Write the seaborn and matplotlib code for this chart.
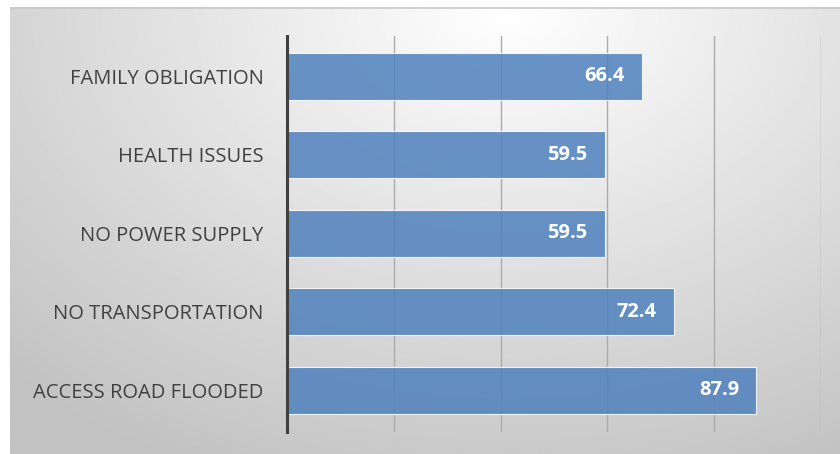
import numpy as np
import pandas as pd
import matplotlib
matplotlib.use('Agg')
import matplotlib.pyplot as plt
import seaborn as sns

# Data (top to bottom as shown)
reasons = ['FAMILY OBLIGATION', 'HEALTH ISSUES', 'NO POWER SUPPLY',
           'NO TRANSPORTATION', 'ACCESS ROAD FLOODED']
percent = [66.4, 59.5, 59.5, 72.4, 87.9]
x_ticks = [0, 20, 40, 60, 80, 100]

BAR_COLOR = '#4f81bd'
TEXT_COLOR = '#404040'

sns.set_theme(style='white')
plt.rcParams['font.family'] = ['Open Sans', 'DejaVu Sans']

df = pd.DataFrame({'reason': reasons, 'percent': percent})

fig = plt.figure(figsize=(8.4, 4.54), dpi=100)
fig.patch.set_facecolor('white')

# gradient panel behind the chart
bg = fig.add_axes([10 / 840, 0, 830 / 840, 447 / 454])
yy, xx = np.mgrid[0:1:300j, 0:1:600j]
dist = np.sqrt(((xx - 0.6) / 0.75) ** 2 + (yy / 1.0) ** 2)
shade = 1.0 - 0.24 * np.clip(dist, 0, 1.15) / 1.15
bg.imshow(shade, cmap='gray', vmin=0, vmax=1, aspect='auto',
          extent=[0, 1, 1, 0], interpolation='bilinear')
bg.plot([0, 1], [0.002, 0.002], color='#c8c8c8', lw=1.2)
bg.set_xlim(0, 1)
bg.set_ylim(1, 0)
bg.axis('off')

ax = fig.add_axes([287 / 840, 1 - 432 / 454, (821 - 287) / 840, (432 - 36) / 454])
ax.patch.set_alpha(0)

sns.barplot(data=df, x='percent', y='reason', orient='h', ax=ax,
            color=BAR_COLOR, width=0.6, alpha=0.85, saturation=1,
            edgecolor='white', linewidth=0.8)

ax.set_xlim(0, 100)
ax.set_ylim(4.53, -0.51)
ax.set_xticks(x_ticks)
ax.set_xticklabels([])
ax.xaxis.grid(True, color='#ababab', lw=1.0)
ax.set_axisbelow(True)
ax.set_xlabel('')
ax.set_ylabel('')
ax.tick_params(axis='y', length=0, pad=17, labelsize=14.5, labelcolor=TEXT_COLOR)
ax.tick_params(axis='x', length=0)

for side in ['top', 'right', 'bottom']:
    ax.spines[side].set_visible(False)
ax.spines['left'].set_color('#404040')
ax.spines['left'].set_linewidth(2.2)

for i, v in enumerate(percent):
    ax.text(v - 3.2, i, f'{v:.1f}', ha='right', va='center',
            color='white', fontsize=14.5, fontweight='bold')

fig.savefig('out.png', dpi=100)
